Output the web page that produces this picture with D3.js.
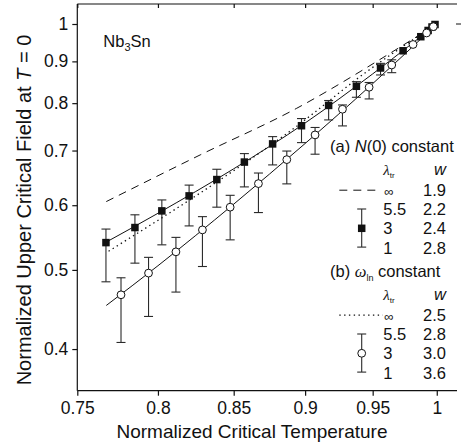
<!DOCTYPE html>
<html>
<head>
<meta charset="utf-8">
<script src="https://cdn.jsdelivr.net/npm/d3@7"></script>
<style>
body { margin: 0; background: #fff; }
text { font-family: "Liberation Sans", Arial, sans-serif; fill: #111; }
</style>
</head>
<body>
<div id="chart"></div>
<script>
// tick values
const xTicks = [0.75, 0.8, 0.85, 0.9, 0.95, 1];
const xTickLabels = ['0.75', '0.8', '0.85', '0.9', '0.95', '1'];
const yTicks = [0.4, 0.5, 0.6, 0.7, 0.8, 0.9, 1];
const yTickLabels = ['0.4', '0.5', '0.6', '0.7', '0.8', '0.9', '1'];

// (a) N(0) constant -- filled squares
const sqTc = [0.7674, 0.7854, 0.8025, 0.8202, 0.8386, 0.8573, 0.8769, 0.8974, 0.9171, 0.9377, 0.956, 0.9734, 0.9873, 0.9931, 0.9962, 0.9986];
const sqH  = [0.540, 0.5634, 0.5905, 0.616, 0.645, 0.6776, 0.7132, 0.7507, 0.7949, 0.839, 0.8834, 0.9273, 0.9648, 0.9819, 0.9916, 0.9986];
const sqHi = [0.561, 0.584, 0.609, 0.635, 0.664, 0.694, 0.728, 0.766, 0.806, 0.850, 0.895];
const sqLo = [0.4835, 0.5096, 0.5366, 0.566, 0.5967, 0.6318, 0.6722, 0.7158, 0.7631, 0.8134, 0.8662];

// (b) omega_ln constant -- open circles
const ciTc = [0.7767, 0.794, 0.8116, 0.829, 0.8476, 0.867, 0.8869, 0.9072, 0.9273, 0.9473, 0.9646, 0.9812, 0.9919, 0.9973];
const ciH  = [0.4661, 0.4955, 0.5261, 0.5597, 0.5967, 0.6377, 0.6823, 0.7315, 0.7864, 0.8367, 0.8909, 0.9439, 0.975, 0.9925];
const ciHi = [0.489, 0.518, 0.548, 0.581, 0.617, 0.657, 0.699, 0.747, 0.796, 0.848, 0.904];
const ciLo = [0.4075, 0.4385, 0.4697, 0.5048, 0.5442, 0.5877, 0.6372, 0.6928, 0.7503, 0.8096, 0.8718];

// model curves
const fitSqTc = [0.767, 0.80, 0.85, 0.90, 0.95, 1.0];
const fitSqH  = [0.540, 0.5865, 0.6649, 0.7565, 0.8688, 1.0];
const fitCiTc = [0.7676, 0.80, 0.85, 0.90, 0.95, 1.0];
const fitCiH  = [0.4523, 0.5059, 0.6018, 0.714, 0.8452, 1.0];
const dashTc = [0.7676, 0.8275, 0.894, 0.9633, 1.0];
const dashH  = [0.6062, 0.6914, 0.7886, 0.9208, 1.0];
const dotTc = [0.769, 0.8275, 0.8905, 0.9458, 1.0];
const dotH  = [0.527, 0.621, 0.742, 0.875, 1.0];

// legend contents
const lambdaVals = ['\u221e', '5.5', '3', '1'];
const wA = ['1.9', '2.2', '2.4', '2.8'];
const wB = ['2.5', '2.8', '3.0', '3.6'];

const W = 462, H = 447;
const pLeft = 77.3, pRight = 455, pTop = 4, pBottom = 390.7;

const svg = d3.select('#chart').append('svg')
    .attr('width', W)
    .attr('height', H);

const x = d3.scaleLog().domain([0.75, 1.0147]).range([pLeft, pRight]);
const y = d3.scaleLog().domain([0.3557, 1.058]).range([pBottom, pTop]);

// frame
svg.append('line').attr('x1', pLeft).attr('x2', pRight + 2).attr('y1', pTop).attr('y2', pTop)
    .attr('stroke', '#111').attr('stroke-width', 1.2);
svg.append('g')
    .attr('transform', 'translate(0,' + pTop + ')')
    .call(d3.axisBottom(x).tickValues(xTicks).tickSize(4).tickFormat(''))
    .call(g => g.select('.domain').remove());
svg.append('line').attr('x1', pRight + 1).attr('x2', pRight + 6).attr('y1', y(1)).attr('y2', y(1))
    .attr('stroke', '#111');

const xAxis = svg.append('g')
    .attr('transform', 'translate(0,' + pBottom + ')')
    .call(d3.axisBottom(x).tickValues(xTicks).tickSize(5).tickPadding(6)
        .tickFormat((d, i) => xTickLabels[i]).tickSizeOuter(0));
xAxis.select('.domain').attr('d', 'M' + pLeft + ',0H' + (pRight + 2));

const yAxis = svg.append('g')
    .attr('transform', 'translate(' + pLeft + ',0)')
    .call(d3.axisLeft(y).tickValues(yTicks).tickSize(5).tickPadding(4)
        .tickFormat((d, i) => yTickLabels[i]).tickSizeOuter(0));
yAxis.select('.domain').attr('d', 'M0,' + pBottom + 'V' + pTop);

svg.selectAll('.tick text')
    .attr('font-family', '"Liberation Sans", Arial, sans-serif')
    .attr('font-size', 17.5)
    .attr('fill', '#111');
svg.selectAll('.domain, .tick line').attr('stroke', '#111').attr('stroke-width', 1.2);

// axis titles
svg.append('text')
    .attr('x', 252).attr('y', 438)
    .attr('text-anchor', 'middle')
    .attr('font-size', 19)
    .text('Normalized Critical Temperature');

const yl = svg.append('text')
    .attr('transform', 'translate(31,210) rotate(-90)')
    .attr('text-anchor', 'middle')
    .attr('font-size', 20);
yl.append('tspan').text('Normalized Upper Critical Field at ');
yl.append('tspan').attr('font-style', 'italic').text('T');
yl.append('tspan').text(' = 0');

// Nb3Sn label
const nb = svg.append('text').attr('x', 103.3).attr('y', 46.5).attr('font-size', 16.5);
nb.append('tspan').text('Nb');
nb.append('tspan').attr('font-size', 11).attr('dy', 4).text('3');
nb.append('tspan').attr('dy', -4).text('Sn');

// curves
const line = d3.line().x(d => x(d[0])).y(d => y(d[1])).curve(d3.curveMonotoneX);
const curves = [
    { tc: dashTc, h: dashH, dash: '8,6', w: 1 },
    { tc: dotTc, h: dotH, dash: '1.4,3.4', w: 1.3 },
    { tc: fitSqTc, h: fitSqH, dash: null, w: 1 },
    { tc: fitCiTc, h: fitCiH, dash: null, w: 1 }
];
svg.selectAll('.curve')
    .data(curves)
    .enter().append('path')
    .attr('class', 'curve')
    .attr('fill', 'none')
    .attr('stroke', '#111')
    .attr('stroke-width', d => d.w)
    .attr('stroke-dasharray', d => d.dash)
    .attr('d', d => line(d.tc.map((t, i) => [t, d.h[i]])));

// error bars
function errorBars(tc, hi, lo) {
    const data = hi.map((v, i) => ({ t: tc[i], hi: v, lo: lo[i] }));
    const g = svg.append('g').attr('stroke', '#2a2a2a').attr('stroke-width', 1.1);
    g.selectAll('.v').data(data).enter().append('line')
        .attr('x1', d => x(d.t)).attr('x2', d => x(d.t))
        .attr('y1', d => y(d.hi)).attr('y2', d => y(d.lo));
    g.selectAll('.ct').data(data).enter().append('line')
        .attr('x1', d => x(d.t) - 4.5).attr('x2', d => x(d.t) + 4.5)
        .attr('y1', d => y(d.hi)).attr('y2', d => y(d.hi));
    g.selectAll('.cb').data(data).enter().append('line')
        .attr('x1', d => x(d.t) - 4.5).attr('x2', d => x(d.t) + 4.5)
        .attr('y1', d => y(d.lo)).attr('y2', d => y(d.lo));
}
errorBars(sqTc, sqHi, sqLo);
errorBars(ciTc, ciHi, ciLo);

// markers
const sq = 7.5;
svg.append('g').selectAll('rect')
    .data(sqTc.map((t, i) => [t, sqH[i]]))
    .enter().append('rect')
    .attr('x', d => x(d[0]) - sq / 2)
    .attr('y', d => y(d[1]) - sq / 2)
    .attr('width', sq).attr('height', sq)
    .attr('fill', '#111');

svg.append('g').selectAll('circle')
    .data(ciTc.map((t, i) => [t, ciH[i]]))
    .enter().append('circle')
    .attr('cx', d => x(d[0]))
    .attr('cy', d => y(d[1]))
    .attr('r', 3.9)
    .attr('fill', '#fff')
    .attr('stroke', '#111')
    .attr('stroke-width', 1);

// legend
const lx = 330, colL = 383.3, colW = 446;
function legendBlock(y0, sub, italicMain, ws, sample) {
    const t = svg.append('text').attr('x', lx).attr('y', y0).attr('font-size', 16.5);
    if (sub) {
        t.append('tspan').text('(b) ');
        t.append('tspan').attr('font-family', '"Liberation Serif", serif').attr('font-style', 'italic').text(italicMain);
        t.append('tspan').attr('font-size', 9).attr('dy', 4).text(sub);
        t.append('tspan').attr('dy', -4).text(' constant');
    } else {
        t.append('tspan').text('(a) ');
        t.append('tspan').attr('font-style', 'italic').text(italicMain);
        t.append('tspan').text('(0) constant');
    }
    const hy = y0 + 23.5;
    const lam = svg.append('text').attr('x', colL).attr('y', hy).attr('font-size', 15);
    lam.append('tspan').attr('font-family', '"Liberation Serif", serif').attr('font-style', 'italic').text('\u03bb');
    lam.append('tspan').attr('font-size', 8).attr('dy', 3).text('tr');
    svg.append('text').attr('x', colW).attr('y', hy).attr('text-anchor', 'end')
        .attr('font-size', 16.5).attr('font-style', 'italic').text('w');
    const rows = lambdaVals.map((l, i) => ({ l, w: ws[i], yy: hy + 20.7 + i * 19.3 }));
    svg.selectAll(null).data(rows).enter().append('text')
        .attr('x', d => d.l === '\u221e' ? colL + 1 : colL).attr('y', d => d.yy)
        .attr('font-size', d => d.l === '\u221e' ? 13 : 16.5).text(d => d.l);
    svg.selectAll(null).data(rows).enter().append('text')
        .attr('x', colW).attr('y', d => d.yy).attr('text-anchor', 'end')
        .attr('font-size', 16.5).text(d => d.w);
    // line sample
    svg.append('line')
        .attr('x1', 339.3).attr('x2', sample.end)
        .attr('y1', rows[0].yy - 5.5).attr('y2', rows[0].yy - 5.5)
        .attr('stroke', '#111').attr('stroke-width', sample.w)
        .attr('stroke-dasharray', sample.dash);
    // error bar sample
    const bx = 361.7, b1 = rows[1].yy - 6, b2 = rows[3].yy - 6.5;
    const g = svg.append('g').attr('stroke', '#2a2a2a').attr('stroke-width', 1.1);
    g.append('line').attr('x1', bx).attr('x2', bx).attr('y1', b1).attr('y2', b2);
    g.append('line').attr('x1', bx - 4.5).attr('x2', bx + 4.5).attr('y1', b1).attr('y2', b1);
    g.append('line').attr('x1', bx - 4.5).attr('x2', bx + 4.5).attr('y1', b2).attr('y2', b2);
    const my = rows[2].yy - 6;
    if (sample.marker === 'square') {
        svg.append('rect').attr('x', bx - sq / 2).attr('y', my - sq / 2)
            .attr('width', sq).attr('height', sq).attr('fill', '#111');
    } else {
        svg.append('circle').attr('cx', bx).attr('cy', my).attr('r', 3.9)
            .attr('fill', '#fff').attr('stroke', '#111');
    }
}
legendBlock(151.5, null, 'N', wA, { end: 379.3, dash: '8,6', w: 1, marker: 'square' });
legendBlock(276.5, 'ln', '\u03c9', wB, { end: 382.7, dash: '1.4,3.4', w: 1.3, marker: 'circle' });
</script>
</body>
</html>
